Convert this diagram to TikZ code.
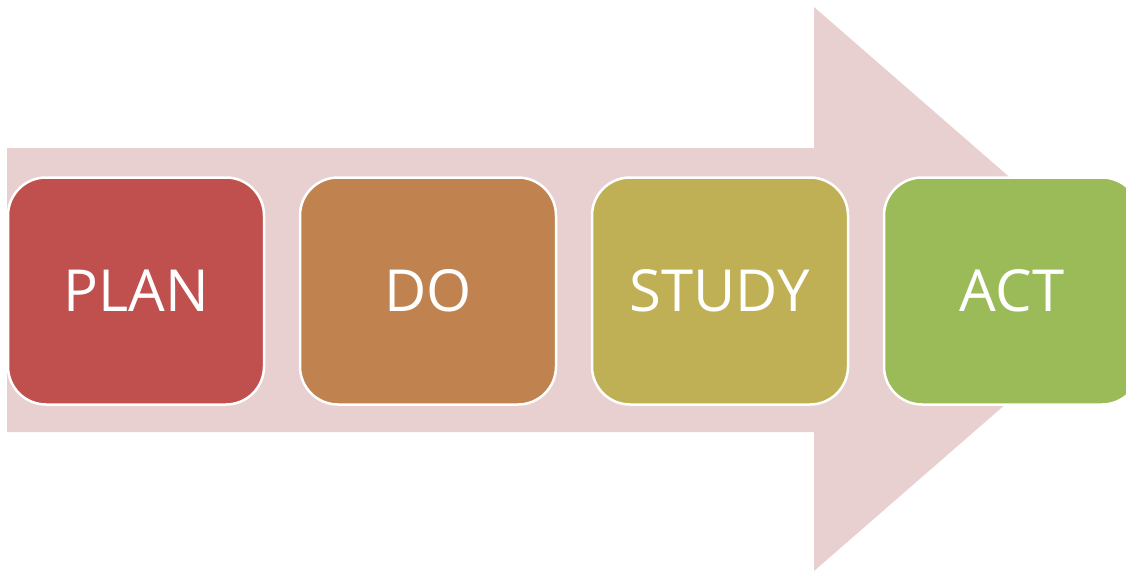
\documentclass[tikz,border=0pt]{standalone}
\usepackage{fontspec}
\setmainfont{Open Sans}
\definecolor{arrowpink}{HTML}{E8D0D1}
\definecolor{planred}{HTML}{C0504D}
\definecolor{dobrown}{HTML}{C0834F}
\definecolor{studyolive}{HTML}{BFB056}
\definecolor{actgreen}{HTML}{9BBB59}
\begin{document}
\begin{tikzpicture}[x=1pt,y=-1pt,
  stage/.style={draw=white, line width=2.5pt, rounded corners=38pt,
    minimum width=256pt, minimum height=227pt, inner sep=0pt,
    text=white, font=\fontsize{58}{58}\selectfont}]
  \useasboundingbox (0,0) rectangle (1126,571);
  \begin{scope}
    \clip (0,0) rectangle (1126,571);
    % big block arrow behind the stages
    \fill[arrowpink] (7,148) -- (814,148) -- (814,7) -- (1138,289)
      -- (814,571) -- (814,432) -- (7,432) -- cycle;
    % the four stages
    \node[stage, fill=planred]    (plan)  at (136,291)  {PLAN};
    \node[stage, fill=dobrown]    (do)    at (428,291)  {DO};
    \node[stage, fill=studyolive] (study) at (720,291)  {STUDY};
    \node[stage, fill=actgreen]   (act)   at (1012,291) {ACT};
  \end{scope}
\end{tikzpicture}
\end{document}
